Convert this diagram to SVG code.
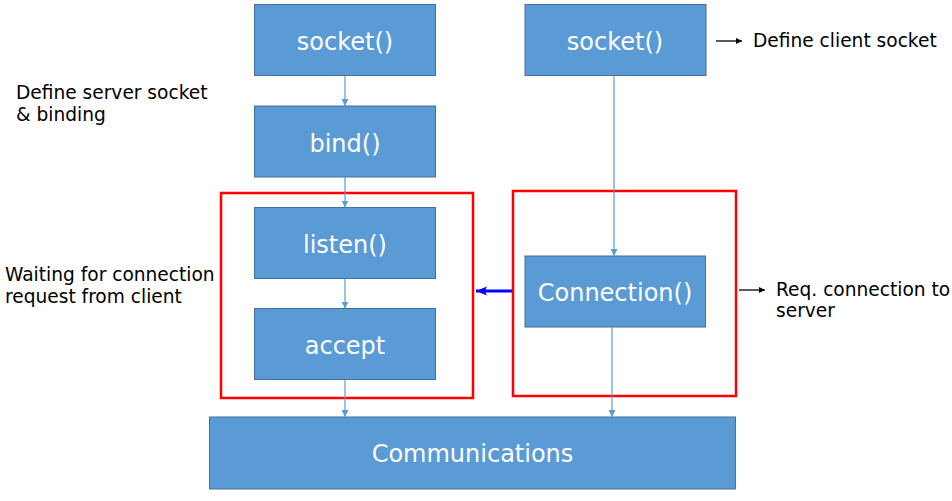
<svg xmlns="http://www.w3.org/2000/svg" width="952" height="501" viewBox="0 0 952 501">
<defs>
<style>
.box{fill:#5B9BD5;stroke:#41719C;stroke-width:1}
.bt{fill:#fff;font-family:"DejaVu Sans",Verdana,sans-serif;font-size:24px;text-anchor:middle}
.lbl{fill:#000;font-family:"DejaVu Sans",Verdana,sans-serif;font-size:18.6px}
.red{fill:none;stroke:#FF0000;stroke-width:2.5}
.conn{stroke:#5B9BD5;stroke-width:1.2;fill:none;marker-end:url(#ah)}
.blk{stroke:#000;stroke-width:1.3;fill:none;marker-end:url(#bh)}
</style>
<marker id="ah" viewBox="0 0 10 10" refX="10" refY="5" markerWidth="7" markerHeight="7" markerUnits="userSpaceOnUse" orient="auto"><path d="M0,0L10,5L0,10z" fill="#5B9BD5"/></marker>
<marker id="bh" viewBox="0 0 10 10" refX="10" refY="5" markerWidth="6" markerHeight="6" markerUnits="userSpaceOnUse" orient="auto"><path d="M0,0L10,5L0,10z" fill="#000"/></marker>
<marker id="blh" viewBox="0 0 10 10" refX="10" refY="5" markerWidth="11" markerHeight="11" markerUnits="userSpaceOnUse" orient="auto"><path d="M0,1L10,5L0,9L2,5z" fill="#0000FF"/></marker>
</defs>
<rect class="red" x="221" y="193" width="252" height="205"/>
<rect class="red" x="513" y="191" width="223" height="205"/>
<g id="socket-server"><rect class="box" x="254.5" y="4.5" width="181" height="71"/><text class="bt" x="345" y="50">socket()</text></g>
<g id="bind"><rect class="box" x="254.5" y="106" width="181" height="71"/><text class="bt" x="345" y="151.5">bind()</text></g>
<g id="listen"><rect class="box" x="254.5" y="207.5" width="181" height="71"/><text class="bt" x="345" y="253">listen()</text></g>
<g id="accept"><rect class="box" x="254.5" y="308.5" width="181" height="71"/><text class="bt" x="345" y="354">accept</text></g>
<g id="socket-client"><rect class="box" x="525" y="4.5" width="181" height="71"/><text class="bt" x="615" y="50">socket()</text></g>
<g id="connection"><rect class="box" x="525" y="256" width="180.5" height="71"/><text class="bt" x="615" y="300.5">Connection()</text></g>
<g id="communications"><rect class="box" x="209.5" y="417" width="526" height="72"/><text class="bt" x="472.5" y="462">Communications</text></g>
<g id="connectors">
<line class="conn" x1="345" y1="76" x2="345" y2="106"/>
<line class="conn" x1="345" y1="177" x2="345" y2="207.5"/>
<line class="conn" x1="345" y1="279" x2="345" y2="308.5"/>
<line class="conn" x1="345" y1="380" x2="345" y2="417"/>
<line class="conn" x1="614" y1="76" x2="614" y2="256"/>
<line class="conn" x1="612" y1="327" x2="612" y2="417"/>
<line x1="512" y1="291" x2="476" y2="291" stroke="#0000FF" stroke-width="3.2" marker-end="url(#blh)"/>
<line class="blk" x1="716" y1="41" x2="742" y2="41"/>
<line class="blk" x1="739" y1="290" x2="765" y2="290"/>
</g>
<g id="labels">
<text class="lbl" x="753" y="47">Define client socket</text>
<text class="lbl" x="776" y="296">Req. connection to</text>
<text class="lbl" x="776" y="317">server</text>
<text class="lbl" x="16" y="99">Define server socket</text>
<text class="lbl" x="16" y="121">&amp; binding</text>
<text class="lbl" x="5" y="281">Waiting for connection</text>
<text class="lbl" x="5" y="303">request from client</text>
</g>
</svg>
